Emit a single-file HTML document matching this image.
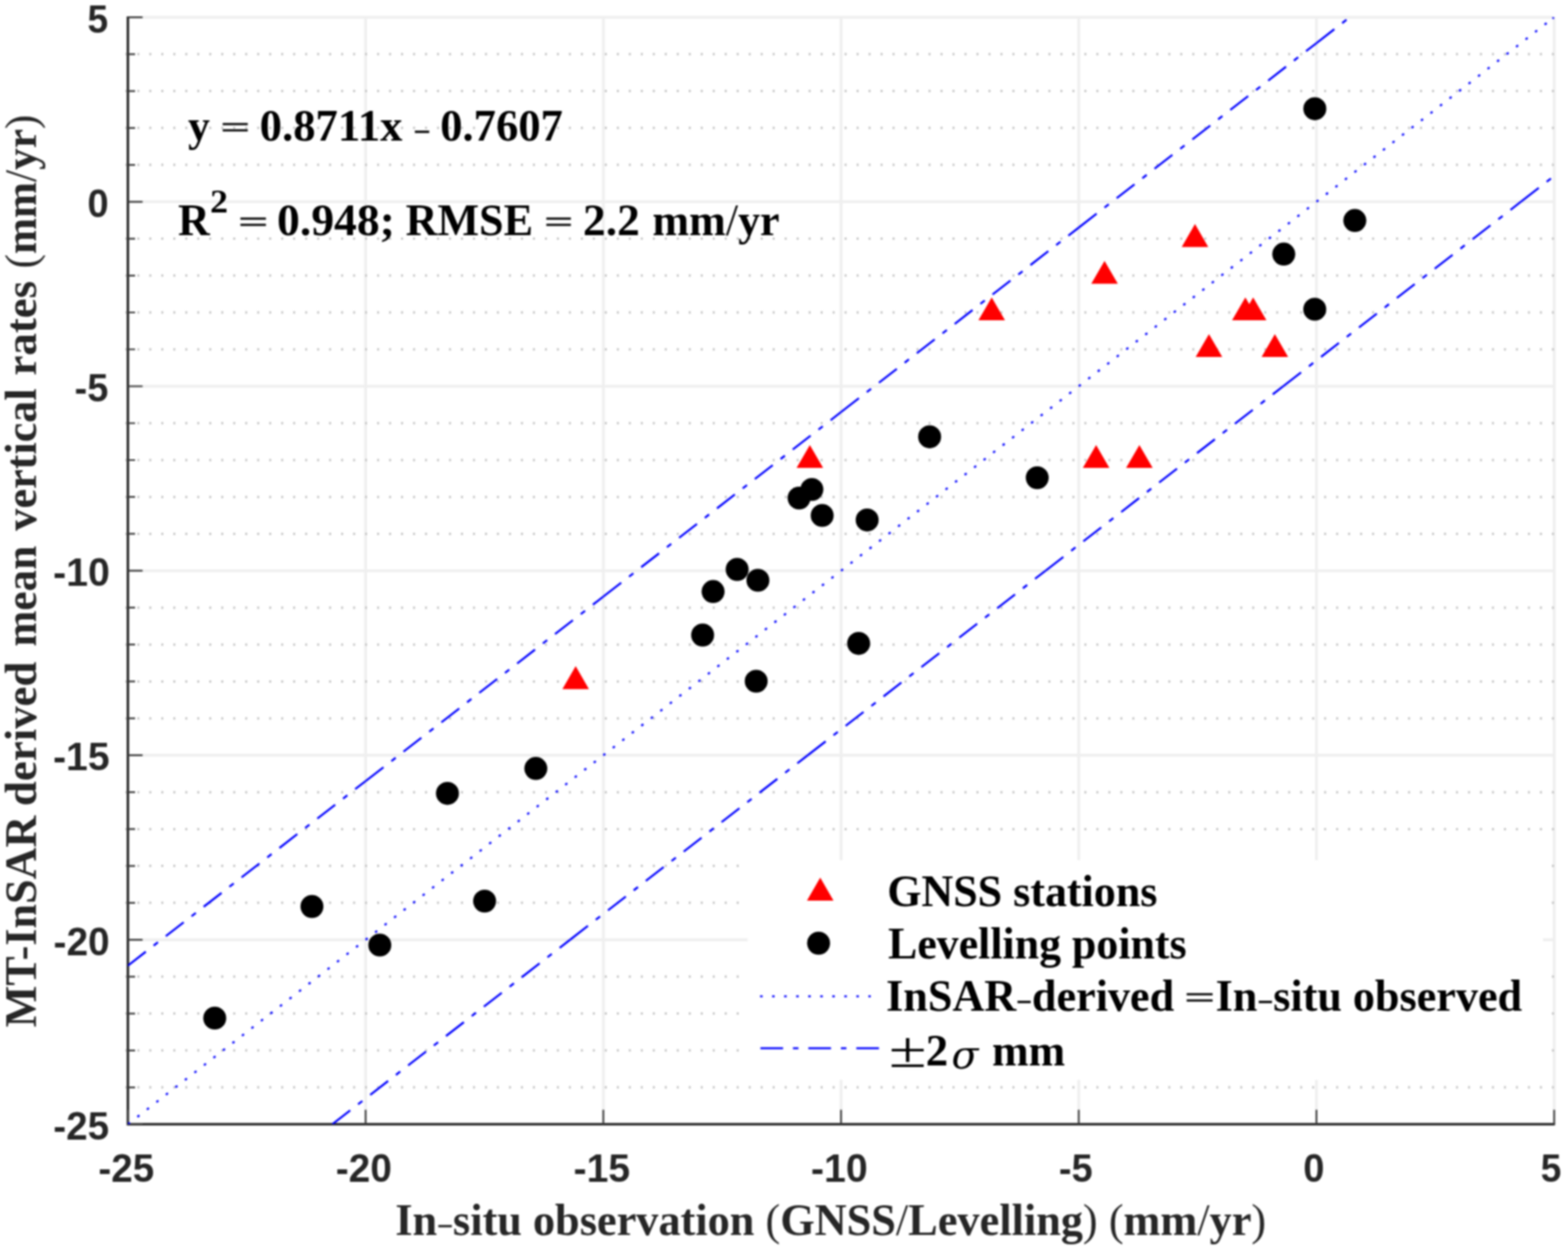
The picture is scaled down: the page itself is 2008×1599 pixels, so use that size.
<!DOCTYPE html><html><head><meta charset="utf-8"><title>InSAR vs in-situ</title><style>html,body{margin:0;padding:0;background:#fff;overflow:hidden}svg{display:block}</style></head><body>
<svg width="2008" height="1599" viewBox="0 0 2008 1599">
<defs><clipPath id="ax"><rect x="163.8" y="22.1" width="1826.5" height="1417.2"/></clipPath></defs>
<rect width="2008" height="1599" fill="#fff"/>
<filter id="bl" x="0" y="0" width="1" height="1" color-interpolation-filters="sRGB"><feGaussianBlur stdDeviation="0.8"/></filter>
<g filter="url(#bl)">
<rect width="2008" height="1599" fill="#fff"/>
<g stroke="#efefef" stroke-width="3.6"><line x1="163.8" y1="1439.30" x2="1990.3" y2="1439.30"/><line x1="163.80" y1="22.1" x2="163.80" y2="1439.3"/><line x1="163.8" y1="1203.10" x2="1990.3" y2="1203.10"/><line x1="468.22" y1="22.1" x2="468.22" y2="1439.3"/><line x1="163.8" y1="966.90" x2="1990.3" y2="966.90"/><line x1="772.63" y1="22.1" x2="772.63" y2="1439.3"/><line x1="163.8" y1="730.70" x2="1990.3" y2="730.70"/><line x1="1077.05" y1="22.1" x2="1077.05" y2="1439.3"/><line x1="163.8" y1="494.50" x2="1990.3" y2="494.50"/><line x1="1381.47" y1="22.1" x2="1381.47" y2="1439.3"/><line x1="163.8" y1="258.30" x2="1990.3" y2="258.30"/><line x1="1685.88" y1="22.1" x2="1685.88" y2="1439.3"/><line x1="163.8" y1="22.10" x2="1990.3" y2="22.10"/><line x1="1990.30" y1="22.1" x2="1990.30" y2="1439.3"/></g>
<g stroke="#c2c2c2" stroke-width="3.0" stroke-dasharray="2.4 12.952"><line x1="160.6" y1="1392.06" x2="1990.3" y2="1392.06"/><line x1="160.6" y1="1344.82" x2="1990.3" y2="1344.82"/><line x1="160.6" y1="1297.58" x2="1990.3" y2="1297.58"/><line x1="160.6" y1="1250.34" x2="1990.3" y2="1250.34"/><line x1="160.6" y1="1155.86" x2="1990.3" y2="1155.86"/><line x1="160.6" y1="1108.62" x2="1990.3" y2="1108.62"/><line x1="160.6" y1="1061.38" x2="1990.3" y2="1061.38"/><line x1="160.6" y1="1014.14" x2="1990.3" y2="1014.14"/><line x1="160.6" y1="919.66" x2="1990.3" y2="919.66"/><line x1="160.6" y1="872.42" x2="1990.3" y2="872.42"/><line x1="160.6" y1="825.18" x2="1990.3" y2="825.18"/><line x1="160.6" y1="777.94" x2="1990.3" y2="777.94"/><line x1="160.6" y1="683.46" x2="1990.3" y2="683.46"/><line x1="160.6" y1="636.22" x2="1990.3" y2="636.22"/><line x1="160.6" y1="588.98" x2="1990.3" y2="588.98"/><line x1="160.6" y1="541.74" x2="1990.3" y2="541.74"/><line x1="160.6" y1="447.26" x2="1990.3" y2="447.26"/><line x1="160.6" y1="400.02" x2="1990.3" y2="400.02"/><line x1="160.6" y1="352.78" x2="1990.3" y2="352.78"/><line x1="160.6" y1="305.54" x2="1990.3" y2="305.54"/><line x1="160.6" y1="211.06" x2="1990.3" y2="211.06"/><line x1="160.6" y1="163.82" x2="1990.3" y2="163.82"/><line x1="160.6" y1="116.58" x2="1990.3" y2="116.58"/><line x1="160.6" y1="69.34" x2="1990.3" y2="69.34"/></g>
<path d="M163.8 21.1V1439.3H1991.3" fill="none" stroke="#1c1c1c" stroke-width="3.0"/>
<path d="M163.8 1439.30h18.8M163.8 1392.06h9.2M163.8 1344.82h9.2M163.8 1297.58h9.2M163.8 1250.34h9.2M163.8 1203.10h18.8M163.8 1155.86h9.2M163.8 1108.62h9.2M163.8 1061.38h9.2M163.8 1014.14h9.2M163.8 966.90h18.8M163.8 919.66h9.2M163.8 872.42h9.2M163.8 825.18h9.2M163.8 777.94h9.2M163.8 730.70h18.8M163.8 683.46h9.2M163.8 636.22h9.2M163.8 588.98h9.2M163.8 541.74h9.2M163.8 494.50h18.8M163.8 447.26h9.2M163.8 400.02h9.2M163.8 352.78h9.2M163.8 305.54h9.2M163.8 258.30h18.8M163.8 211.06h9.2M163.8 163.82h9.2M163.8 116.58h9.2M163.8 69.34h9.2M163.8 22.10h18.8M163.80 1439.3v-18.5M468.22 1439.3v-18.5M772.63 1439.3v-18.5M1077.05 1439.3v-18.5M1381.47 1439.3v-18.5M1685.88 1439.3v-18.5M1990.30 1439.3v-18.5" stroke="#3a3a3a" stroke-width="2.2" fill="none"/>
<g clip-path="url(#ax)" stroke="#0000ff" stroke-width="2.6" fill="none">
<g stroke-dasharray="3.2 12.21"><line x1="163.80" y1="1439.30" x2="468.22" y2="1203.10"/><line x1="468.22" y1="1203.10" x2="772.63" y2="966.90"/><line x1="772.63" y1="966.90" x2="1077.05" y2="730.70"/><line x1="1077.05" y1="730.70" x2="1381.47" y2="494.50"/><line x1="1381.47" y1="494.50" x2="1685.88" y2="258.30"/><line x1="1685.88" y1="258.30" x2="1990.30" y2="22.10"/></g>
<line x1="1988.25" y1="23.69" x2="1990.77" y2="21.73"/>
<g stroke-dasharray="29 12.7 7 12.7"><line x1="163.80" y1="1236.17" x2="468.22" y2="999.97"/><line x1="468.22" y1="999.97" x2="772.63" y2="763.77"/><line x1="772.63" y1="763.77" x2="1077.05" y2="527.57"/><line x1="1077.05" y1="527.57" x2="1381.47" y2="291.37"/><line x1="1381.47" y1="291.37" x2="1685.88" y2="55.17"/><line x1="1685.88" y1="55.17" x2="1990.30" y2="-181.03"/><line x1="425.60" y1="1439.30" x2="730.02" y2="1203.10"/><line x1="730.02" y1="1203.10" x2="1034.43" y2="966.90"/><line x1="1034.43" y1="966.90" x2="1338.85" y2="730.70"/><line x1="1338.85" y1="730.70" x2="1643.27" y2="494.50"/><line x1="1643.27" y1="494.50" x2="1947.68" y2="258.30"/><line x1="1947.68" y1="258.30" x2="2252.10" y2="22.10"/></g>
</g>
<path fill="#ff0000" d="M1530.30 286.87L1547.30 316.17L1513.30 316.17ZM1414.50 333.97L1431.50 363.27L1397.50 363.27ZM1270.00 380.72L1287.00 410.02L1253.00 410.02ZM1594.80 380.72L1611.80 410.02L1577.80 410.02ZM1604.80 380.72L1621.80 410.02L1587.80 410.02ZM1548.20 427.77L1565.20 457.07L1531.20 457.07ZM1632.60 427.77L1649.60 457.07L1615.60 457.07ZM1037.10 569.77L1054.10 599.07L1020.10 599.07ZM1403.70 569.77L1420.70 599.07L1386.70 599.07ZM1459.10 569.77L1476.10 599.07L1442.10 599.07ZM737.20 852.87L754.20 882.17L720.20 882.17Z"/>
<g fill="#000"><circle cx="1683.8" cy="139.2" r="14.7"/><circle cx="1735.0" cy="282.3" r="14.7"/><circle cx="1644.0" cy="325.3" r="14.7"/><circle cx="1683.7" cy="395.9" r="14.7"/><circle cx="1190.5" cy="559.2" r="14.7"/><circle cx="1328.3" cy="611.6" r="14.7"/><circle cx="1023.3" cy="637.6" r="14.7"/><circle cx="1039.7" cy="626.6" r="14.7"/><circle cx="1052.9" cy="659.9" r="14.7"/><circle cx="1110.5" cy="665.7" r="14.7"/><circle cx="944.0" cy="729.0" r="14.7"/><circle cx="970.6" cy="742.9" r="14.7"/><circle cx="913.2" cy="757.3" r="14.7"/><circle cx="899.8" cy="813.0" r="14.7"/><circle cx="1099.6" cy="823.7" r="14.7"/><circle cx="968.4" cy="872.1" r="14.7"/><circle cx="686.2" cy="983.8" r="14.7"/><circle cx="573.0" cy="1015.7" r="14.7"/><circle cx="620.6" cy="1153.6" r="14.7"/><circle cx="399.5" cy="1160.5" r="14.7"/><circle cx="486.4" cy="1209.9" r="14.7"/><circle cx="275.0" cy="1303.4" r="14.7"/></g>
<g font-family="'Liberation Sans', sans-serif" font-weight="bold" font-size="49.5" fill="#262626"><text x="126.00" y="1513.30" textLength="71.34" lengthAdjust="spacingAndGlyphs">-25</text><text x="68.30" y="1458.80" textLength="71.34" lengthAdjust="spacingAndGlyphs">-25</text><text x="430.00" y="1513.30" textLength="71.76" lengthAdjust="spacingAndGlyphs">-20</text><text x="68.60" y="1222.60" textLength="71.76" lengthAdjust="spacingAndGlyphs">-20</text><text x="734.50" y="1513.30" textLength="72.39" lengthAdjust="spacingAndGlyphs">-15</text><text x="67.90" y="986.40" textLength="72.39" lengthAdjust="spacingAndGlyphs">-15</text><text x="1038.50" y="1513.30" textLength="72.63" lengthAdjust="spacingAndGlyphs">-10</text><text x="68.10" y="750.20" textLength="72.63" lengthAdjust="spacingAndGlyphs">-10</text><text x="1356.00" y="1513.30" textLength="43.17" lengthAdjust="spacingAndGlyphs">-5</text><text x="95.60" y="514.00" textLength="43.17" lengthAdjust="spacingAndGlyphs">-5</text><text x="1669.00" y="1513.30" textLength="27.11" lengthAdjust="spacingAndGlyphs">0</text><text x="112.10" y="277.80" textLength="27.11" lengthAdjust="spacingAndGlyphs">0</text><text x="1973.00" y="1513.30" textLength="26.45" lengthAdjust="spacingAndGlyphs">5</text><text x="112.10" y="41.60" textLength="26.45" lengthAdjust="spacingAndGlyphs">5</text></g>
<text x="506.20" y="1580.80" font-family="'Liberation Serif', serif" font-weight="bold" font-size="57" fill="#262626" textLength="1115.28" lengthAdjust="spacingAndGlyphs">In<tspan font-family="'DejaVu Sans', sans-serif" font-weight="200" font-size="62.7" dy="5.98" dx="-1.14" stroke="#262626" stroke-width="0.7">-</tspan><tspan dy="-5.98" dx="-1.14">situ observation </tspan><tspan font-weight="normal">(</tspan>GNSS<tspan font-weight="normal">/</tspan>Levelling<tspan font-weight="normal">)</tspan> <tspan font-weight="normal">(</tspan>mm<tspan font-weight="normal">/</tspan>yr<tspan font-weight="normal">)</tspan></text>
<g transform="translate(46.2,1314.2) rotate(-90)">
<text x="-1.00" y="0.00" font-family="'Liberation Serif', serif" font-weight="bold" font-size="57" fill="#262626" textLength="270.88" lengthAdjust="spacingAndGlyphs">MT-InSAR</text>
<text x="282.20" y="0.00" font-family="'Liberation Serif', serif" font-weight="bold" font-size="57" fill="#262626" textLength="185.07" lengthAdjust="spacingAndGlyphs">derived</text>
<text x="486.40" y="0.00" font-family="'Liberation Serif', serif" font-weight="bold" font-size="57" fill="#262626" textLength="129.11" lengthAdjust="spacingAndGlyphs">mean</text>
<text x="634.80" y="0.00" font-family="'Liberation Serif', serif" font-weight="bold" font-size="57" fill="#262626" textLength="182.17" lengthAdjust="spacingAndGlyphs">vertical</text>
<text x="833.40" y="0.00" font-family="'Liberation Serif', serif" font-weight="bold" font-size="57" fill="#262626" textLength="121.30" lengthAdjust="spacingAndGlyphs">rates</text>
<text x="970.40" y="0.00" font-family="'Liberation Serif', serif" font-weight="bold" font-size="57" fill="#262626" textLength="197.05" lengthAdjust="spacingAndGlyphs"><tspan font-weight="normal">(</tspan>mm<tspan font-weight="normal">/</tspan>yr<tspan font-weight="normal">)</tspan></text>
</g>
<text x="240.80" y="180.00" font-family="'Liberation Serif', serif" font-weight="bold" font-size="56.5" fill="#000" textLength="28.06" lengthAdjust="spacingAndGlyphs">y</text>
<text x="280.20" y="178.60" font-family="'DejaVu Sans', sans-serif" font-weight="200" font-size="52" fill="#000" textLength="42.05" lengthAdjust="spacingAndGlyphs"><tspan stroke="#000" stroke-width="0.7">=</tspan></text>
<text x="332.60" y="180.00" font-family="'Liberation Serif', serif" font-weight="bold" font-size="56.5" fill="#000" textLength="182.75" lengthAdjust="spacingAndGlyphs">0.8711x</text>
<text x="528.40" y="186.00" font-family="'DejaVu Sans', sans-serif" font-weight="200" font-size="62" fill="#000" textLength="23.98" lengthAdjust="spacingAndGlyphs"><tspan stroke="#000" stroke-width="0.7">-</tspan></text>
<text x="563.80" y="180.00" font-family="'Liberation Serif', serif" font-weight="bold" font-size="56.5" fill="#000" textLength="157.02" lengthAdjust="spacingAndGlyphs">0.7607</text>
<text x="228.00" y="301.00" font-family="'Liberation Serif', serif" font-weight="bold" font-size="56.5" fill="#000" textLength="40.62" lengthAdjust="spacingAndGlyphs">R</text>
<text x="269.00" y="272.30" font-family="'Liberation Serif', serif" font-weight="bold" font-size="42" fill="#000" textLength="23.02" lengthAdjust="spacingAndGlyphs">2</text>
<text x="302.80" y="299.60" font-family="'DejaVu Sans', sans-serif" font-weight="200" font-size="52" fill="#000" textLength="42.81" lengthAdjust="spacingAndGlyphs"><tspan stroke="#000" stroke-width="0.7">=</tspan></text>
<text x="354.80" y="301.00" font-family="'Liberation Serif', serif" font-weight="bold" font-size="56.5" fill="#000" textLength="151.00" lengthAdjust="spacingAndGlyphs">0.948;</text>
<text x="519.60" y="301.00" font-family="'Liberation Serif', serif" font-weight="bold" font-size="56.5" fill="#000" textLength="163.05" lengthAdjust="spacingAndGlyphs">RMSE</text>
<text x="694.80" y="299.60" font-family="'DejaVu Sans', sans-serif" font-weight="200" font-size="52" fill="#000" textLength="41.28" lengthAdjust="spacingAndGlyphs"><tspan stroke="#000" stroke-width="0.7">=</tspan></text>
<text x="746.60" y="301.00" font-family="'Liberation Serif', serif" font-weight="bold" font-size="56.5" fill="#000" textLength="72.77" lengthAdjust="spacingAndGlyphs">2.2</text>
<text x="835.60" y="301.00" font-family="'Liberation Serif', serif" font-weight="bold" font-size="56.5" fill="#000" textLength="162.77" lengthAdjust="spacingAndGlyphs">mm<tspan font-weight="normal">/</tspan>yr</text>
<rect x="957.4" y="1101.2" width="1018.6" height="281.3" fill="#fff"/>
<path d="M1050.4 1123.6L1067.4 1152.9L1033.4 1152.9Z" fill="#ff0000"/>
<circle cx="1048.3" cy="1207.5" r="14.7" fill="#000"/>
<line x1="973.4" y1="1275.5" x2="1115.1" y2="1275.5" stroke="#0000ff" stroke-width="2.6" stroke-dasharray="3.2 12.21"/>
<line x1="973.8" y1="1342" x2="1125.6" y2="1342" stroke="#0000ff" stroke-width="2.6" stroke-dasharray="29 12.7 7 12.7"/>
<text x="1136.20" y="1160.20" font-family="'Liberation Serif', serif" font-weight="bold" font-size="57" fill="#000" textLength="345.97" lengthAdjust="spacingAndGlyphs">GNSS stations</text>
<text x="1137.20" y="1227.10" font-family="'Liberation Serif', serif" font-weight="bold" font-size="57" fill="#000" textLength="382.36" lengthAdjust="spacingAndGlyphs">Levelling points</text>
<text x="1134.80" y="1294.40" font-family="'Liberation Serif', serif" font-weight="bold" font-size="57" fill="#000" textLength="814.45" lengthAdjust="spacingAndGlyphs">InSAR<tspan font-family="'DejaVu Sans', sans-serif" font-weight="200" font-size="62.7" dy="5.98" dx="-1.14" stroke="#000" stroke-width="0.7">-</tspan><tspan dy="-5.98" dx="-1.14">derived </tspan><tspan font-family="'DejaVu Sans', sans-serif" font-weight="200" font-size="52.4" dy="-1.43" dx="-3.42" stroke="#000" stroke-width="0.7">=</tspan><tspan dy="1.43" dx="-1.14">In</tspan><tspan font-family="'DejaVu Sans', sans-serif" font-weight="200" font-size="62.7" dy="5.98" dx="-1.14" stroke="#000" stroke-width="0.7">-</tspan><tspan dy="-5.98" dx="-1.14">situ observed</tspan></text>
<text x="1138.20" y="1366.00" font-family="'Liberation Serif', serif" font-weight="normal" font-size="66" fill="#000" textLength="48.39" lengthAdjust="spacingAndGlyphs">±</text>
<text x="1185.60" y="1364.20" font-family="'Liberation Serif', serif" font-weight="bold" font-size="57" fill="#000" textLength="28.75" lengthAdjust="spacingAndGlyphs">2</text>
<text x="1218.60" y="1368.00" font-family="'DejaVu Serif', serif" font-weight="normal" font-size="50" fill="#000" textLength="34.57" lengthAdjust="spacingAndGlyphs"><tspan font-style="italic">σ</tspan></text>
<text x="1270.60" y="1364.20" font-family="'Liberation Serif', serif" font-weight="bold" font-size="57" fill="#000" textLength="93.55" lengthAdjust="spacingAndGlyphs">mm</text>
</g>
</svg></body></html>
